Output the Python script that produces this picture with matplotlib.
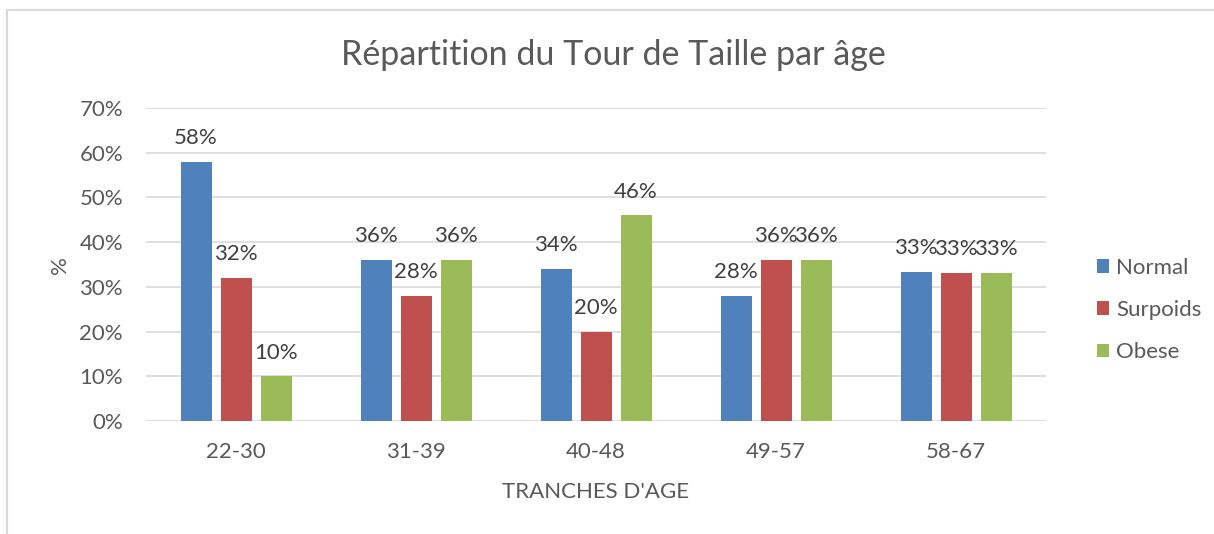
import numpy as np
import matplotlib
matplotlib.use("Agg")
import matplotlib.pyplot as plt
from matplotlib.patches import Rectangle

# data
tranches = ["22-30", "31-39", "40-48", "49-57", "58-67"]
normal = [58, 36, 34, 28, 33.4]
surpoids = [32, 28, 20, 36, 33.2]
obese = [10, 36, 46, 36, 33.2]
series_names = ["Normal", "Surpoids", "Obese"]
colors = ["#4F81BD", "#C0504D", "#9BBB59"]

plt.rcParams['font.family'] = ['Lato', 'DejaVu Sans']
txt = "#595959"
fs = 16

fig = plt.figure(figsize=(12.14, 5.34), dpi=100)
ax = fig.add_axes([146/1214, 113/534, 900/1214, 313/534])

x = np.arange(len(tranches))
w = 31/180
step = 40/180
for i, (vals, name, c) in enumerate(zip([normal, surpoids, obese], series_names, colors)):
	pos = x + (i - 1) * step
	ax.bar(pos, vals, width=w, color=c, label=name, zorder=3)
	for p, v in zip(pos, vals):
		ax.annotate(f"{round(v)}%", (p, v), xytext=(0, 17), textcoords="offset points",
					ha="center", va="center", fontsize=fs, color="#404040")

ax.set_xlim(-0.5, len(tranches) - 0.5)
ax.set_ylim(0, 70)
ax.set_yticks(np.arange(0, 71, 10))
ax.set_yticklabels([f"{t}%" for t in range(0, 71, 10)])
ax.set_xticks(x)
ax.set_xticklabels(tranches)
ax.grid(axis="y", color="#D9D9D9", lw=1.2, zorder=0)
for s in ["top", "right", "left", "bottom"]:
	ax.spines[s].set_visible(False)
ax.tick_params(axis="both", length=0, labelsize=fs, labelcolor=txt)
ax.tick_params(axis="x", pad=15)
ax.tick_params(axis="y", pad=16.5)

ax.set_xlabel("TRANCHES D'AGE", fontsize=fs, color=txt, va="center")
ax.xaxis.set_label_coords(0.5, -0.227)
ax.set_ylabel("%", fontsize=fs, color=txt, va="center")
ax.yaxis.set_label_coords(-0.0956, 0.498)

fig.text(613/1214, (534-55)/534, "Répartition du Tour de Taille par âge",
		 ha="center", va="center", fontsize=24.5, color=txt)

ax.legend(loc="center left", bbox_to_anchor=(1086/1214, (534-310)/534),
		  bbox_transform=fig.transFigure, frameon=False, fontsize=fs,
		  labelcolor=txt, handlelength=0.55, handleheight=0.55,
		  handletextpad=0.3, labelspacing=1.0, borderpad=0)

# chart area border
fig.patches.append(Rectangle((7/1214, -0.1), 1.2, (534-10)/534 + 0.1,
							 transform=fig.transFigure, fill=False,
							 edgecolor="#D9D9D9", lw=1.5))

fig.savefig("out.png", dpi=100)
